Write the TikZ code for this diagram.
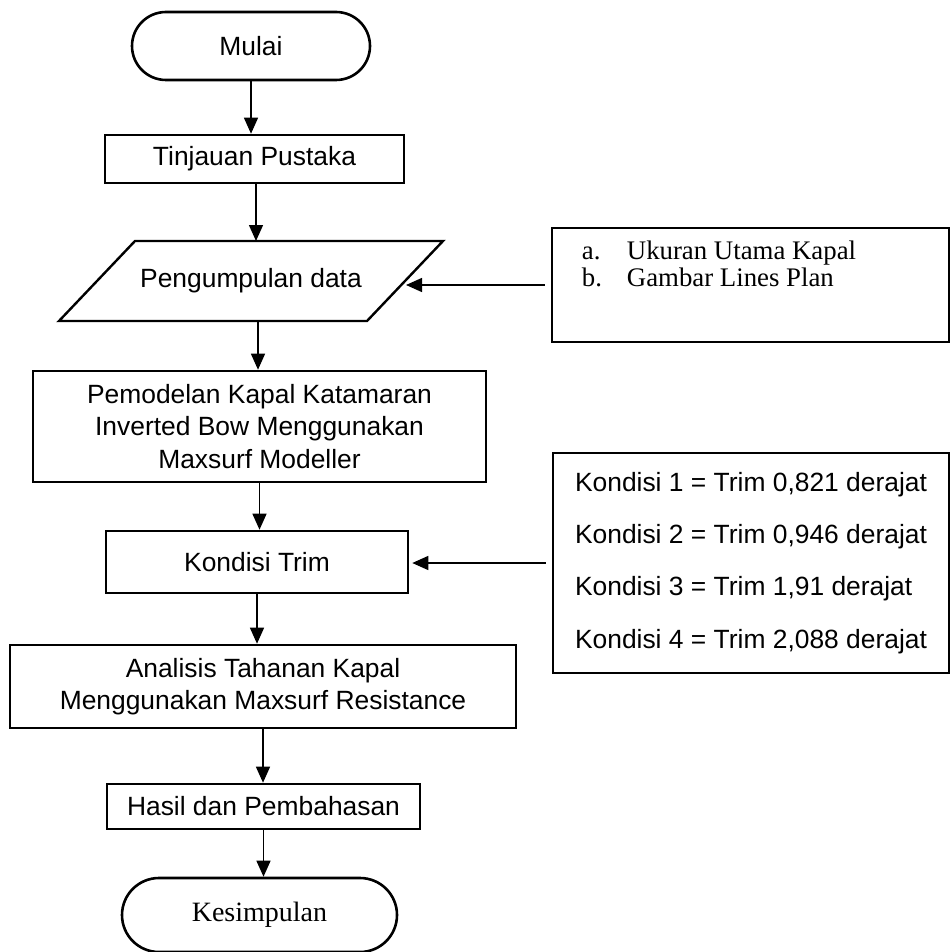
\documentclass[tikz,border=0pt]{standalone}
\usepackage{fontspec}
\setmainfont{Liberation Sans}
\newfontfamily\timesfont{Liberation Serif}
\usetikzlibrary{arrows.meta}

\begin{document}
\begin{tikzpicture}[
            x = 1pt, y = -1pt,
            every node/.style = {font = \fontsize{26.4}{32.5}\selectfont, align = center},
            process/.style = {draw, line width = 2.6pt, inner sep = 0pt},
            terminal/.style = {draw, line width = 2.6pt, rounded corners = 34pt, inner sep = 0pt},
            io/.style = {draw, line width = 2.4pt},
            note/.style = {draw, line width = 2.6pt},
            arrow/.style = {draw, line width = 1.4pt, -{Triangle[length = 16pt, width = 14pt]}}
        ]
        \useasboundingbox (0,0) rectangle (950,952);
        % main flow
        \node[terminal, minimum width = 238pt, minimum height = 68pt] (start) at (251,46) {Mulai};
        \node[process, minimum width = 299pt, minimum height = 48pt] (review) at (254.5,159) {Tinjauan Pustaka};
        \node (data) at (251,281) {Pengumpulan data};
        \draw[io] (59,321) -- (135,241) -- (443,241) -- (367,321) -- cycle;
        \coordinate (dataN) at (256,241);
        \coordinate (dataS) at (258,321);
        \coordinate (dataE) at (405,283);
        \node[process, minimum width = 453pt, minimum height = 111pt] (model) at (259.5,426.5)
            {Pemodelan Kapal Katamaran\\Inverted Bow Menggunakan\\Maxsurf Modeller};
        \node[process, minimum width = 302pt, minimum height = 62pt] (trim) at (257,562) {Kondisi Trim};
        \node[process, minimum width = 506pt, minimum height = 83pt] (resist) at (263,686.5)
            {Analisis Tahanan Kapal\\Menggunakan Maxsurf Resistance};
        \node[process, minimum width = 313pt, minimum height = 45pt] (result) at (263.5,806.5) {Hasil dan Pembahasan};
        \node[terminal, rounded corners = 37pt, minimum width = 275pt, minimum height = 74pt,
            font = \timesfont\fontsize{28}{32}\selectfont] (finish) at (259.5,915) {Kesimpulan};
        % side inputs
        \node[note, minimum width = 397pt, minimum height = 114pt] (specs) at (750.5,285) {};
        \node[anchor = north west, inner sep = 0pt, align = left,
            font = \timesfont\fontsize{26.8}{27.5}\selectfont] (specitems) at ([xshift = 31pt, yshift = -14pt]specs.north west)
            {\makebox[45pt][l]{a.}Ukuran Utama Kapal\\\makebox[45pt][l]{b.}Gambar Lines Plan};
        \node[note, minimum width = 396pt, minimum height = 220pt, align = left,
            font = \fontsize{26.4}{52.3}\selectfont] (conds) at (751,563)
            {Kondisi 1 = Trim 0,821 derajat\\Kondisi 2 = Trim 0,946 derajat\\Kondisi 3 = Trim 1,91 derajat\\Kondisi 4 = Trim 2,088 derajat};
        % connectors
        \path (start.south) edge[arrow] (start.south |- review.north);
        \path (review.south -| dataN) edge[arrow] (dataN);
        \path (dataS) edge[arrow] (dataS |- model.north);
        \path (model.south) edge[arrow] (model.south |- trim.north);
        \path (trim.south) edge[arrow] (trim.south |- resist.north);
        \path (resist.south) edge[arrow] (resist.south |- result.north);
        \path (result.south) edge[arrow] (result.south |- finish.north);
        \path (specs.west) edge[arrow, shorten <= 6pt, shorten >= 1pt] (specs.west -| dataE);
        \path (conds.west) edge[arrow, shorten <= 6pt, shorten >= 3pt] (conds.west -| trim.east);
    \end{tikzpicture}
\end{document}
